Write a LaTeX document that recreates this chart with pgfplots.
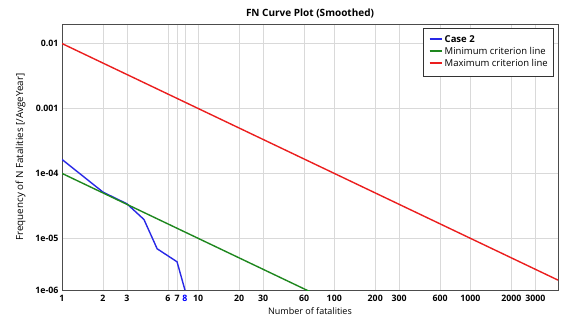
\documentclass[border=0pt]{standalone}
\usepackage{pgfplots}
\pgfplotsset{compat=1.18}
\usepackage{fontspec}
\setmainfont{Open Sans}
\definecolor{cblue}{RGB}{40,40,230}
\definecolor{cgreen}{RGB}{30,135,30}
\definecolor{cred}{RGB}{235,30,30}
\newcommand{\legline}[1]{\textcolor{#1}{\rule[0.27em]{12pt}{1.7pt}}\hspace{3pt}}
\begin{document}
\begin{tikzpicture}
\useasboundingbox (0,0) rectangle (573pt,321pt);
\begin{axis}[
  at={(62pt,31pt)}, anchor=south west,
  scale only axis, width=496pt, height=266pt,
  xmode=log, ymode=log,
  xmin=1, xmax=4400, ymin=1.6e-6, ymax=0.02,
  xtick={1,2,3,6,7,8,10,20,30,60,100,200,300,600,1000,2000,3000},
  xticklabels={1,2,3,6,7,\textcolor{blue}{8},10,20,30,60,100,200,300,600,1000,2000,3000},
  ytick={0.01,0.001,0.0001,0.00001},
  yticklabels={0.01,0.001,1e-04,1e-05},
  extra y ticks={1.6e-6}, extra y tick labels={1e-06},
  extra y tick style={grid=none},
  /pgf/number format/assume math mode=true,
  ticklabel style={font=\fontsize{8.8}{10}\selectfont\bfseries},
  xticklabel style={yshift=-2pt},
  major tick length=0pt, minor tick length=0pt,
  grid=both,
  major grid style={gray!30, line width=0.6pt},
  minor grid style={gray!20, line width=0.5pt},
  axis line style={draw=black!70, line width=0.9pt},
  title={\bfseries FN Curve Plot (Smoothed)},
  title style={font=\fontsize{10}{12}\selectfont, yshift=-4pt},
  xlabel={Number of fatalities},
  ylabel={Frequency of N Fatalities [/AvgeYear]},
  xlabel style={font=\fontsize{9}{10}\selectfont, yshift=1pt},
  ylabel style={font=\fontsize{9.8}{11}\selectfont, yshift=3pt},
  clip=true,
]
\addplot[cblue, line width=1.4pt] coordinates {
 (1,1.64e-4) (2,5.15e-5) (3,3.4e-5) (4,1.95e-5) (5,6.9e-6) (7,4.35e-6) (8,1.6e-6)
};
\addplot[cgreen, line width=1.4pt] coordinates {(1,1e-4) (100,1e-6)};
\addplot[cred, line width=1.4pt] coordinates {(1,1e-2) (4400,2.2727e-6)};
\node[draw=black!80, line width=0.7pt, fill=white, anchor=north east, inner xsep=6pt, inner ysep=6pt,
  font=\fontsize{9.5}{12}\selectfont, text=black] at (rel axis cs:0.992,0.985) {%
  \begin{tabular}{@{}l@{}}
  \legline{cblue}\textbf{Case 2}\\
  \legline{cgreen}Minimum criterion line\\
  \legline{cred}Maximum criterion line
  \end{tabular}};
\end{axis}
\end{tikzpicture}
\end{document}
